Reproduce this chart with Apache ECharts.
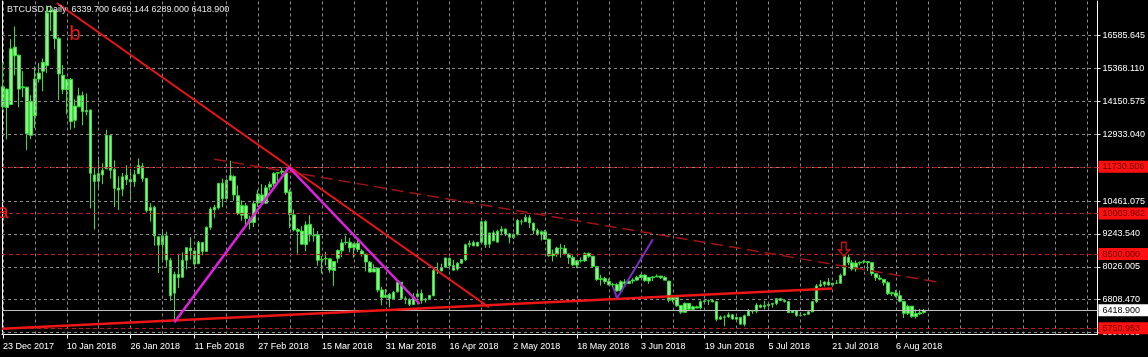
<!DOCTYPE html>
<html><head><meta charset="utf-8">
<script src="https://cdn.jsdelivr.net/npm/echarts@6/dist/echarts.min.js"></script>
<style>html,body{margin:0;padding:0;background:#000;overflow:hidden}#chart{width:1148px;height:357px}</style>
</head><body><div id="chart"></div>
<script>
const FONT = '"Liberation Sans", Arial, sans-serif';
const titleText = 'BTCUSD,Daily  6339.700 6469.144 6289.000 6418.900';
const tickLabels = ['23 Dec 2017','10 Jan 2018','26 Jan 2018','11 Feb 2018','27 Feb 2018','15 Mar 2018','31 Mar 2018','16 Apr 2018','2 May 2018','18 May 2018','3 Jun 2018','19 Jun 2018','5 Jul 2018','21 Jul 2018','6 Aug 2018'];
const priceTicks = [16585.645, 15368.110, 14150.575, 12933.040, 11715.505, 10461.075, 9243.540, 8026.005, 6808.470, 5590.935];
const levelLines = [11730.506, 10003.982, 8500.000, 5750.953];
const bidPrice = 6418.900;

const openP = [
13948,14608,14036,16163,15864,14695,14681,12897,
13625,14978,15270,15477,17462,17527,16476,15123,
14588,14968,13453,13952,14370,13767,13836,11431,
11198,11429,11656,12889,11633,10944,10904,11422,
11256,11174,11475,11755,11306,10109,10237,9142,
8852,9175,8270,7051,7755,7637,8271,8720,
8616,8141,8927,8599,9488,10136,10207,11124,
10552,11231,11373,10660,9937,10287,9796,9669,
10393,10688,10385,10978,11101,11497,11532,11500,
10803,9951,9414,9350,8853,9602,9173,9214,
8290,8322,8321,7891,8344,8619,8937,8939,
8736,8901,8613,8499,8200,7836,7979,7171,
6892,7003,6845,7102,7456,6848,6815,6630,
6920,7044,6795,6843,6955,7901,7874,8013,
8337,8071,7944,8159,8286,8848,8925,8795,
8934,9701,8867,9290,8940,9346,9427,9251,
9104,9233,9696,9700,9845,9645,9380,9223,
9325,9052,8441,8515,8713,8705,8504,8370,
8091,8256,8246,8522,8420,8037,7561,7592,
7486,7362,7371,7129,7469,7406,7500,7536,
7632,7722,7500,7625,7653,7686,7632,7499,
6799,6905,6596,6342,6674,6455,6546,6510,
6740,6770,6780,6737,6090,6164,6172,6252,
6084,6153,5898,6214,6411,6380,6597,6550,
6599,6638,6668,6849,6775,6740,6330,6396,
6235,6247,6272,6357,6739,7315,7378,7464,
7352,7417,7415,7716,8379,8176,7951,8170,
8205,8221,8181,7769,7611,7562,7439,7031,
7062,6958,6747,6305,6571,6185,6283,6339.7];
const highP = [
15604,14626,16461,16930,15888,15279,14681,14378,
15444,15572,15739,17705,17712,17579,16537,15497,
14973,15018,14229,14659,14511,14445,13843,11678,
12107,11862,13103,12895,11966,11377,11501,11785,
11656,11614,12040,11875,11307,10381,10288,9142,
9430,9334,8364,7850,8509,8558,8736,9122,
8616,8985,8942,9518,10234,10324,11139,11290,
11274,11958,11418,11039,10487,10393,9923,10475,
10878,11089,11052,11189,11528,11512,11704,11500,
10900,10147,9466,9531,9711,9937,9470,9355,
8428,8585,8346,8203,8675,9051,9177,9100,
8879,9024,8683,8499,8243,8122,7994,7284,
7207,7060,7135,7530,7469,6933,6857,7050,
7111,7179,6872,6969,7955,8183,8140,8357,
8371,8285,8197,8298,8880,9000,9001,8958,
9732,9745,9281,9375,9403,9531,9440,9255,
9256,9798,9779,9964,9940,9665,9446,9374,
9396,9052,8664,8773,8881,8836,8504,8445,
8274,8374,8562,8557,8423,8037,7734,7659,
7595,7433,7419,7526,7573,7605,7604,7695,
7755,7754,7643,7680,7749,7686,7683,7499,
6910,6908,6619,6707,6681,6592,6589,6781,
6822,6821,6810,6747,6224,6233,6335,6271,
6180,6171,6261,6465,6432,6683,6640,6771,
6684,6677,6840,6880,6802,6745,6415,6398,
6347,6298,6401,6741,7387,7534,7494,7613,
7437,7537,7772,8424,8485,8279,8262,8222,
8272,8221,8181,7769,7727,7562,7497,7102,
7167,7150,6747,6625,6571,6455,6470,6469.144];
const lowP = [
13828,12747,14028,15114,13937,14307,12350,12755,
13163,14844,14522,15202,16764,16087,14208,14424,
13672,13105,13158,13952,13268,13641,10194,9403,
10942,11090,11656,11288,10240,10130,10639,11058,
10470,10989,11475,11179,10036,9701,8812,7797,
8251,8031,6756,6048,7236,7637,7931,8295,
7931,8141,8452,8599,9395,9824,10149,10230,
10513,11231,10479,9939,9734,9535,9407,9501,
10247,10393,10352,10850,11002,11136,11443,10694,
9458,9336,8513,8828,8607,8956,8958,8068,
7783,8079,7812,7322,8182,8389,8846,8564,
8360,8577,8406,7860,7820,7836,7081,6601,
6892,6526,6816,7072,6803,6645,6575,6630,
6920,6661,6704,6843,6936,7758,7858,8013,
7925,7880,7887,8138,8244,8747,8805,8788,
8934,8731,8727,8987,8941,9193,9165,8891,
9051,9188,9585,9695,9465,9231,9177,9005,
9030,8394,8223,8395,8367,8456,8131,8054,
7974,8184,8205,8365,8004,7507,7331,7392,
7349,7270,7108,7090,7313,7392,7407,7497,
7613,7474,7397,7502,7652,7572,7531,6709,
6706,6542,6285,6334,6433,6402,6499,6446,
6709,6611,6721,6006,6071,5827,6143,6071,
6052,5883,5826,6214,6289,6305,6492,6450,
6526,6515,6607,6758,6700,6337,6320,6176,
6193,6221,6268,6357,6684,7280,7295,7321,
7303,7400,7414,7705,8088,7884,7849,8080,
8141,7867,7696,7504,7528,7328,6984,6940,
6898,6715,6132,6243,6146,6109,6238,6289];
const closeP = [
14699,13925,16099,15838,14606,14656,12952,14156,
14982,15201,15599,17429,17527,16477,15170,14595,
14973,13405,13980,14360,13772,13819,11490,11188,
11474,11607,12899,11600,10931,10868,11360,11259,
11171,11441,11787,11296,10106,10221,9170,8830,
9174,8277,6955,7754,7622,8266,8736,8621,
8129,8926,8598,9494,10166,10233,11112,10552,
11225,11403,10690,10005,10301,9813,9664,10366,
10725,10397,10951,11086,11489,11512,11573,10779,
9965,9395,9337,8866,9578,9205,9194,8269,
8300,8338,7916,8223,8630,8913,8929,8728,
8879,8668,8495,8209,7833,7954,7165,6890,
6973,6844,7083,7456,6853,6811,6636,6911,
7023,6770,6834,6968,7889,7895,8003,8355,
8058,7902,8163,8294,8845,8895,8802,8930,
9697,8845,9281,8987,9349,9419,9240,9119,
9235,9743,9700,9858,9654,9373,9234,9325,
9044,8441,8504,8723,8716,8510,8368,8094,
8250,8247,8513,8418,8041,7557,7587,7480,
7355,7368,7135,7473,7406,7495,7541,7643,
7720,7514,7633,7654,7679,7624,7531,6787,
6906,6582,6349,6675,6456,6550,6499,6734,
6769,6776,6729,6084,6162,6173,6250,6093,
6157,5904,6219,6404,6385,6614,6529,6597,
6639,6673,6857,6773,6741,6329,6394,6228,
6239,6276,6360,6741,7321,7370,7467,7355,
7419,7418,7711,8424,8182,7951,8166,8193,
8218,8180,7780,7624,7567,7434,7032,7068,
6951,6753,6305,6568,6184,6295,6322,6418.9];

// drawn objects, in [bar index, price]
const resistanceLine = [[13.5,17796],[121.9,6528]];
const supportLine = [[-0.25,5736],[208,7225]];
const channelLine = [[53,12009],[234.9,7454]];
const magentaLine = [[43,5973],[71.75,11712],[104.5,6650]];
const purpleLine = [[153,7291],[154,6861],[163,9046]];
const arrowPoint = [210.9, 8676];
const waveLabels = [{text:'b', at:[18.1,16641]}, {text:'a', at:[0,10057]}];

const LABEL_EVERY = 16, GRID_EVERY = 8, SLOT_MAX = 274.5;
const yMin = 5521, yMax = 17870.6;

const tickIdx = tickLabels.map((_, k) => k * LABEL_EVERY);
const vGrid = [];
for (let i = 0; i <= SLOT_MAX; i += GRID_EVERY) vGrid.push(i);
const candles = openP.map((o, i) => [i, o, closeP[i], lowP[i], highP[i]]);

const gridStyle = {color:'#8a8a8a', type:[3,3], width:1};
const chart = echarts.init(document.getElementById('chart'), null, {renderer:'canvas'});
const lineSeries = (data, color, width, type, z) => ({
  type:'line', data, symbol:'none', silent:true, animation:false, z,
  lineStyle:{color, width, type: type || 'solid'}
});
const priceLabel = (bg, fg) => ({show:true, position:'end', distance:1, formatter:'{b}', color:fg,
  backgroundColor:bg, padding:[2,10,1,4], fontSize:9, fontFamily:FONT});

chart.setOption({
  backgroundColor:'#000000',
  animation:false,
  title:{text:titleText, left:7, top:5, padding:0, textStyle:{color:'#e8e8e8', fontSize:9, fontWeight:'normal', fontFamily:FONT}},
  grid:{left:2, right:47, top:1, bottom:22.5, containLabel:false},
  xAxis:{type:'value', min:-0.25, max:SLOT_MAX,
    axisLine:{show:true, onZero:false, lineStyle:{color:'#ffffff', width:1}},
    axisTick:{show:true, customValues:tickIdx, length:4, lineStyle:{color:'#ffffff'}},
    axisLabel:{show:true, customValues:tickIdx, formatter:(v)=>tickLabels[Math.round(v/LABEL_EVERY)] || '',
      color:'#ffffff', fontSize:9, fontFamily:FONT, align:'left', margin:8},
    splitLine:{show:false}},
  yAxis:[{type:'value', position:'right', min:yMin, max:yMax, scale:true,
    axisLine:{show:true, onZero:false, lineStyle:{color:'#ffffff', width:1}},
    axisTick:{show:true, customValues:priceTicks, length:3, lineStyle:{color:'#ffffff'}},
    axisLabel:{show:true, customValues:priceTicks, formatter:(v)=>v.toFixed(3), color:'#ffffff', fontSize:9, fontFamily:FONT, margin:5},
    splitLine:{show:false}},
   {type:'value', position:'left', min:yMin, max:yMax, scale:true,
    axisLine:{show:true, onZero:false, lineStyle:{color:'#ffffff', width:1}},
    axisTick:{show:false}, axisLabel:{show:false}, splitLine:{show:false}}],
  series:[
    {type:'line', data:[], silent:true, z:1, symbol:'none',
      markLine:{silent:true, symbol:['none','none'], animation:false, label:{show:false}, lineStyle:gridStyle,
        data:[...vGrid.map(i=>({xAxis:i})), ...priceTicks.map(v=>({yAxis:v}))]}},
    {type:'line', data:[], silent:true, z:2, symbol:'none',
      markLine:{silent:true, symbol:['none','none'], animation:false,
        lineStyle:{color:'#c81414', type:[4,3], width:1},
        label:priceLabel('#ff1010', '#6a0000'),
        data:levelLines.map(v=>({yAxis:v, name:v.toFixed(3)}))}},
    {type:'line', data:[], silent:true, z:2, symbol:'none',
      markLine:{silent:true, symbol:['none','none'], animation:false,
        lineStyle:{color:'#c0c0c0', type:'solid', width:1},
        label:priceLabel('#ffffff', '#000000'),
        data:[{yAxis:bidPrice, name:bidPrice.toFixed(3)}]}},
    {type:'candlestick', data:candles, encode:{x:0, y:[1,2,3,4]}, barWidth:3, z:3, silent:true,
      itemStyle:{color:'#8cf08c', color0:'#8cf08c', borderColor:'#33e033', borderColor0:'#33e033', borderWidth:1}},
    lineSeries(supportLine, '#ee1515', 2.5, 'solid', 5),
    lineSeries(resistanceLine, '#ee1515', 2, 'solid', 5),
    lineSeries(channelLine, '#a01414', 1.5, [12,6], 5),
    lineSeries(magentaLine, '#e020e0', 2.5, 'solid', 6),
    lineSeries(purpleLine, '#7a2cc8', 2, 'solid', 6),
    {type:'line', data:[], silent:true, z:7, symbol:'none',
      markPoint:{silent:true, animation:false, data:[
        {coord:arrowPoint, symbol:'path://M3,0 L7,0 L7,7 L10,7 L5,13 L0,7 L3,7 Z', symbolSize:[11,14],
          itemStyle:{color:'rgba(0,0,0,0)', borderColor:'#c01010', borderWidth:1.5}, label:{show:false}},
        ...waveLabels.map(w=>({coord:w.at, symbol:'circle', symbolSize:1, itemStyle:{color:'rgba(0,0,0,0)'},
          label:{show:true, position:'inside', formatter:w.text, color:'#ee1515', fontSize:20, fontFamily:FONT}}))
      ]}}
  ]
});
</script></body></html>
